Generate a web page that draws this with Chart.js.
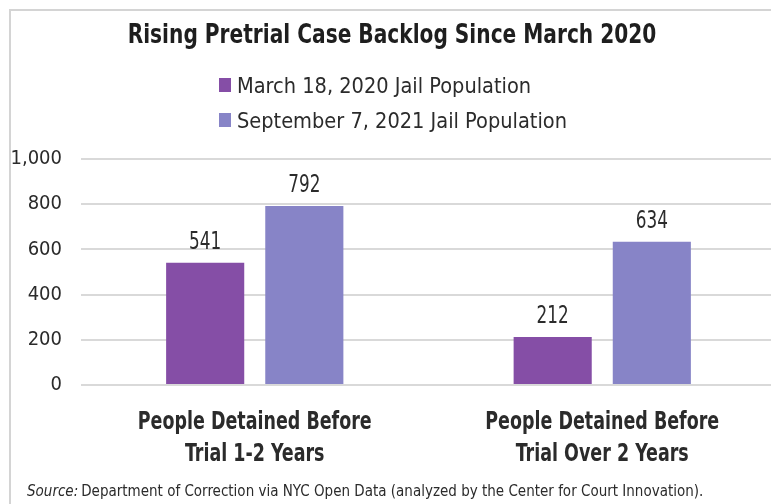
<!DOCTYPE html>
<html lang="en">
<head>
  <meta charset="UTF-8" />
  <title>Rising Pretrial Case Backlog Since March 2020</title>
  <script src="https://cdn.jsdelivr.net/npm/chart.js"></script>
  <style>
    html, body {
      margin: 0;
      padding: 0;
      overflow: hidden;
      background: #fff;
    }
    #wrap {
      position: relative;
      width: 771px;
      height: 504px;
      overflow: hidden;
    }
    canvas {
      position: absolute;
      left: 0;
      top: 0;
    }
  </style>
</head>
<body>
  <div id="wrap">
    <canvas id="backlogChart" width="790" height="504"></canvas>
  </div>

  <script>
    const FONT = "'DejaVu Sans Condensed', 'DejaVu Sans', sans-serif";

    const categories = [
      ['People Detained Before', 'Trial 1-2 Years'],
      ['People Detained Before', 'Trial Over 2 Years']
    ];
    const seriesNames = ['March 18, 2020 Jail Population', 'September 7, 2021 Jail Population'];
    const march2020 = [541, 212];
    const sept2021 = [792, 634];
    const yTicks = [0, 200, 400, 600, 800, 1000];

    const colors = ['#854ea6', '#8784c7'];

    // narrow text helper (the original uses a condensed DIN-style face)
    function narrowText(c, text, x, y, sx) {
      c.save();
      c.translate(x, y);
      c.scale(sx, 1);
      c.fillText(text, 0, 0);
      c.restore();
    }

    // light frame on the top and left edge
    const frame = {
      id: 'frame',
      beforeDraw(chart) {
        const c = chart.ctx;
        c.save();
        c.fillStyle = '#d4d4d4';
        c.fillRect(9, 9, chart.width, 2);
        c.fillRect(9, 9, 2, chart.height);
        c.restore();
      }
    };

    // title, legend, category labels, value labels and source note
    const decorations = {
      id: 'decorations',
      afterDatasetsDraw(chart) {
        const c = chart.ctx;
        c.save();
        c.fillStyle = '#1e1e1e';
        c.textAlign = 'center';
        c.textBaseline = 'alphabetic';
        c.font = 'bold 27px ' + FONT;
        narrowText(c, 'Rising Pretrial Case Backlog Since March 2020', 392, 43, 0.83);

        // legend
        c.textAlign = 'left';
        c.font = '22px ' + FONT;
        chart.data.datasets.forEach((ds, i) => {
          const y = 92 + i * 35;
          c.fillStyle = ds.backgroundColor;
          c.fillRect(219, y - 14, 12, 14);
          c.fillStyle = '#2b2b2b';
          narrowText(c, ds.label, 237, y + 1, 0.98);
        });

        // category labels
        const xs = chart.scales.x;
        c.textAlign = 'center';
        c.font = 'bold 24px ' + FONT;
        c.fillStyle = '#2b2b2b';
        chart.data.labels.forEach((lines, j) => {
          const px = xs.getPixelForValue(j);
          lines.forEach((line, k) => {
            narrowText(c, line, px, xs.top + 44 + k * 32, 0.81);
          });
        });

        // values on top of bars
        c.font = '24px ' + FONT;
        chart.data.datasets.forEach((ds, i) => {
          chart.getDatasetMeta(i).data.forEach((bar, j) => {
            narrowText(c, String(ds.data[j]), bar.x, bar.y - 14, 0.78);
          });
        });

        // source
        c.textAlign = 'left';
        c.font = 'italic 15px ' + FONT;
        c.fillText('Source:', 27, 496);
        const w = c.measureText('Source:').width;
        c.font = '15px ' + FONT;
        c.fillText('Department of Correction via NYC Open Data (analyzed by the Center for Court Innovation).', 27 + w + 3, 496);
        c.restore();
      }
    };

    new Chart(document.getElementById('backlogChart'), {
      type: 'bar',
      data: {
        labels: categories,
        datasets: [
          { label: seriesNames[0], data: march2020, backgroundColor: colors[0] },
          { label: seriesNames[1], data: sept2021, backgroundColor: colors[1] }
        ]
      },
      options: {
        responsive: false,
        animation: false,
        devicePixelRatio: 1,
        categoryPercentage: 0.5706,
        barPercentage: 0.788,
        layout: { padding: { top: 159, left: 0, right: 14, bottom: 0 } },
        plugins: {
          legend: { display: false },
          title: { display: false },
          tooltip: { enabled: false }
        },
        scales: {
          x: {
            grid: { display: false },
            border: { display: false },
            ticks: { display: false },
            afterFit(scale) { scale.height = 119; }
          },
          y: {
            min: 0,
            max: 1000,
            afterBuildTicks(scale) { scale.ticks = yTicks.map(v => ({ value: v })); },
            grid: { color: '#d9d9d9', lineWidth: 2, drawTicks: false },
            border: { display: false },
            ticks: {
              color: '#2b2b2b',
              font: { family: FONT, size: 20 },
              padding: 19
            },
            afterFit(scale) { scale.width = 81; }
          }
        }
      },
      plugins: [frame, decorations]
    });
  </script>
</body>
</html>
